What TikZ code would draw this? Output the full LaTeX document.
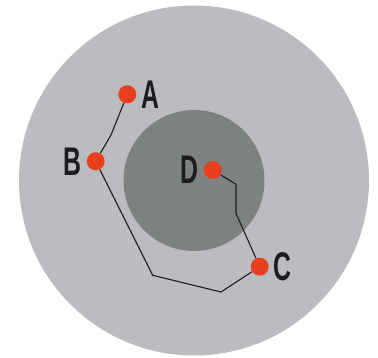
\documentclass[tikz,border=0pt]{standalone}
\usepackage{fontspec}
\setmainfont{Liberation Sans}
\definecolor{outergray}{RGB}{188,188,192}
\definecolor{innergray}{RGB}{125,130,129}
\definecolor{dotred}{RGB}{232,64,31}
\definecolor{inkblack}{RGB}{28,28,30}

\begin{document}
\begin{tikzpicture}[
		x=1pt, y=-1pt,
		label distance=8pt,
		every node/.style={circle, fill=dotred, minimum size=18pt, inner sep=0pt},
		every label/.append style={rectangle, fill=none, minimum size=0pt, text=inkblack,
			font=\fontsize{40}{40}\selectfont\bfseries, xscale=0.62}
	]
  \useasboundingbox (0,0) rectangle (378,358);
  \fill[outergray] (194,180.5) circle [radius=175pt];
  \fill[innergray] (194,180.5) circle [radius=70.5pt];
  \node (pA) [label=right:A] at (127.3,94.3) {};
  \node (pB) [label=left:B] at (95.7,161.3) {};
  \node (pD) [label=left:D] at (212.7,170) {};
  \node (pC) [label=right:C] at (259.7,266.7) {};
  \coordinate (kAB) at (111,135);
  \coordinate (kB1) at (152.7,275.3);
  \coordinate (kB2) at (221,292);
  \coordinate (kD1) at (236,184.3);
  \coordinate (kD2) at (236,213.3);
  \draw[inkblack, line width=1.1pt] (pA) -- (kAB) -- (pB);
  \draw[inkblack, line width=1.1pt] (pB) -- (kB1) -- (kB2) -- (pC);
  \draw[inkblack, line width=1.1pt] (pD) -- (kD1) -- (kD2) -- (pC);
\end{tikzpicture}
\end{document}
